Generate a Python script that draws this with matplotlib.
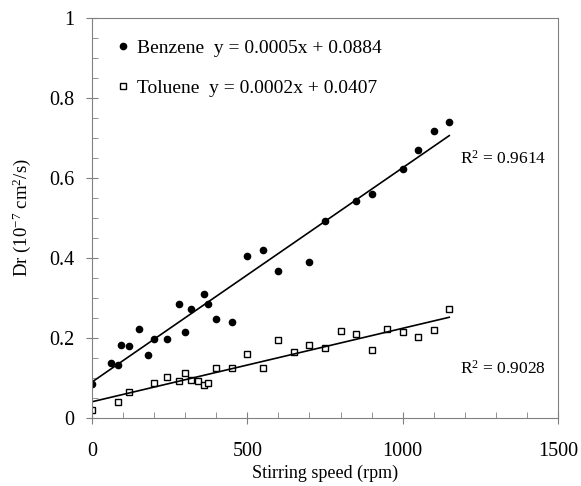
import numpy as np
import matplotlib
matplotlib.use("Agg")
import matplotlib.pyplot as plt
from matplotlib.ticker import MultipleLocator

plt.rcParams["font.family"] = ["Liberation Serif", "DejaVu Serif"]
plt.rcParams["mathtext.fontset"] = "custom"
plt.rcParams["mathtext.rm"] = "Liberation Serif"
plt.rcParams["mathtext.it"] = "Liberation Serif:italic"

# stirring speed (rpm) and Dr (10^-7 cm2/s)
benz_x = [0, 60, 85, 95, 120, 150, 180, 200, 240, 280, 300, 320, 360, 375,
          400, 450, 500, 550, 600, 700, 750, 850, 900, 1000, 1050, 1100, 1150]
benz_y = [0.084, 0.138, 0.132, 0.182, 0.180, 0.222, 0.157, 0.198, 0.198, 0.284,
          0.214, 0.272, 0.309, 0.284, 0.247, 0.240, 0.405, 0.419, 0.367, 0.389,
          0.492, 0.543, 0.559, 0.622, 0.670, 0.718, 0.740]

tol_x = [0, 85, 120, 200, 240, 280, 300, 320, 340, 360, 375, 400, 450, 500,
         550, 600, 650, 700, 750, 800, 850, 900, 950, 1000, 1050, 1100, 1150]
tol_y = [0.020, 0.039, 0.064, 0.087, 0.102, 0.093, 0.112, 0.095, 0.092, 0.083,
         0.087, 0.125, 0.125, 0.159, 0.125, 0.195, 0.166, 0.182, 0.175, 0.217,
         0.211, 0.169, 0.223, 0.214, 0.202, 0.221, 0.272]

benz_label = "Benzene  y = 0.0005x + 0.0884"
tol_label = "Toluene  y = 0.0002x + 0.0407"
benz_r2 = "R$^2$ = 0.9614"
tol_r2 = "R$^2$ = 0.9028"

fig = plt.figure(figsize=(5.81, 4.86), dpi=100)
ax = fig.add_axes([0.1583, 0.1399, 0.8021, 0.8231])

ax.plot(benz_x, benz_y, "o", color="black", markersize=4.5, label=benz_label)
ax.plot(tol_x, tol_y, "s", mfc="white", mec="black", mew=1, markersize=4.2, label=tol_label)

# linear trend lines
for xs, ys in [(benz_x, benz_y), (tol_x, tol_y)]:
    k, b = np.polyfit(xs, ys, 1)
    xx = np.array([min(xs), max(xs)])
    ax.plot(xx, k * xx + b, color="black", lw=1.2)

ax.text(1184, 0.648, benz_r2, fontsize=12.5, va="center")
ax.text(1184, 0.124, tol_r2, fontsize=12.5, va="center")

ax.set_xlim(0, 1500)
ax.set_ylim(0, 1)
ax.set_xticks([0, 500, 1000, 1500])
ax.set_yticks([0, 0.2, 0.4, 0.6, 0.8, 1])
ax.set_yticklabels(["0", "0.2", "0.4", "0.6", "0.8", "1"])
ax.xaxis.set_minor_locator(MultipleLocator(100))
ax.yaxis.set_minor_locator(MultipleLocator(0.05))
ax.tick_params(which="major", direction="inout", length=9, color="#808080",
               labelsize=14.5)
ax.tick_params(axis="y", which="major", pad=8)
ax.tick_params(axis="x", which="major", pad=13)
ax.tick_params(which="minor", direction="in", length=4, color="#808080")
for s in ax.spines.values():
    s.set_color("#808080")

ax.set_xlabel("Stirring speed (rpm)", fontsize=13, labelpad=2.5)
ax.set_ylabel("Dr (10$^{-7}$ cm$^2$/s)", fontsize=13.5, labelpad=12)

ax.legend(loc="upper left", bbox_to_anchor=(0.013, 0.995), frameon=False,
          fontsize=14, handlelength=0.6, handletextpad=0.4, labelspacing=1.15,
          borderaxespad=0.6)

fig.savefig("out.png", dpi=100)
